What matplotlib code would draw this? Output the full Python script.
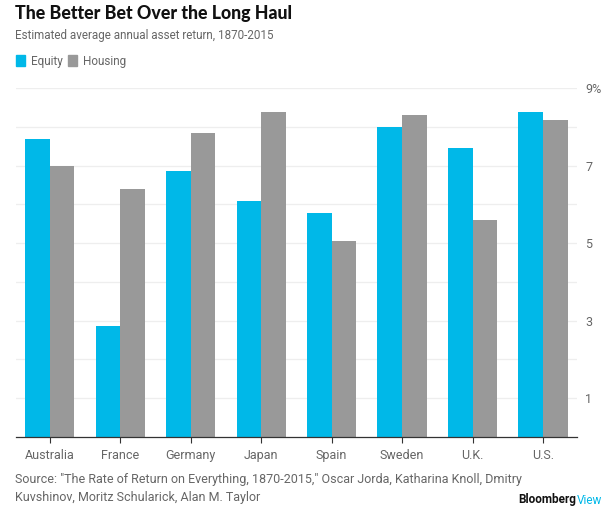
import matplotlib
matplotlib.use("Agg")
import matplotlib.pyplot as plt
import numpy as np
from matplotlib.patches import Rectangle

countries = ["Australia", "France", "Germany", "Japan", "Spain", "Sweden", "U.K.", "U.S."]
equity = [7.70, 2.86, 6.86, 6.10, 5.77, 7.99, 7.47, 8.39]
housing = [7.00, 6.39, 7.85, 8.38, 5.06, 8.32, 5.61, 8.19]
ytick_vals = [1, 3, 5, 7, 9]
ytick_labels = ["1", "3", "5", "7", "9%"]

CYAN = "#00B8E8"
GRAY = "#999999"
TXT = "#666666"

plt.rcParams['font.family'] = ['Roboto', 'DejaVu Sans']

fig = plt.figure(figsize=(6.15, 5.19), dpi=100)
ax = fig.add_axes([0.026, 0.158, 0.912, 0.672])

x = np.arange(len(countries))
w = 0.35
ax.bar(x - w/2, equity, width=w, color=CYAN, zorder=2)
ax.bar(x + w/2, housing, width=w, color=GRAY, zorder=2)

ax.set_xlim(-0.48, 7.48)
ax.set_ylim(0, 9)
for v in range(1, 10):
    ax.axhline(v, color="#eeeeee", lw=0.9, zorder=0)

ax.yaxis.tick_right()
ax.set_yticks(ytick_vals)
ax.set_yticklabels(ytick_labels, color=TXT, fontsize=9)
ax.tick_params(axis='y', length=0, pad=6)
ax.set_xticks(x)
ax.set_xticklabels(countries, color=TXT, fontsize=9)
ax.tick_params(axis='x', length=4, width=0.8, color="#333333", pad=5)

for s in ["top", "left", "right"]:
    ax.spines[s].set_visible(False)
ax.spines["bottom"].set_color("#333333")
ax.spines["bottom"].set_linewidth(0.9)

fig.text(15/615, 1-14/519, "The Better Bet Over the Long Haul", fontsize=12.8,
         fontweight='black', family=['Lato', 'DejaVu Sans'], color="#111111", va='center', ha='left')
fig.text(15/615, 1-35/519, "Estimated average annual asset return, 1870-2015", fontsize=8.4,
         color=TXT, va='center', ha='left')

# legend
fig.patches.append(Rectangle((16/615, 1-66/519), 9/615, 11/519, transform=fig.transFigure, color=CYAN))
fig.text(31/615, 1-61/519, "Equity", fontsize=8.5, color=TXT, va='center', ha='left')
fig.patches.append(Rectangle((68/615, 1-66/519), 9/615, 11/519, transform=fig.transFigure, color=GRAY))
fig.text(83/615, 1-61/519, "Housing", fontsize=8.5, color=TXT, va='center', ha='left')

fig.text(15/615, 1-479/519,
         "Source: \"The Rate of Return on Everything, 1870-2015,\" Oscar Jorda, Katharina Knoll, Dmitry",
         fontsize=9.0, color=TXT, va='center', ha='left')
fig.text(15/615, 1-497/519, "Kuvshinov, Moritz Schularick, Alan M. Taylor",
         fontsize=9.0, color=TXT, va='center', ha='left')

t = fig.text(518/615, 1-500/519, "Bloomberg", fontsize=8.5, fontweight='bold', color="#111111",
             va='center', ha='left')
fig.canvas.draw()
bb = t.get_window_extent()
fig.text(bb.x1/615 + 0.001, 1-500/519, "View", fontsize=8.5, color=CYAN, va='center', ha='left')

fig.savefig("out.png", dpi=100)
